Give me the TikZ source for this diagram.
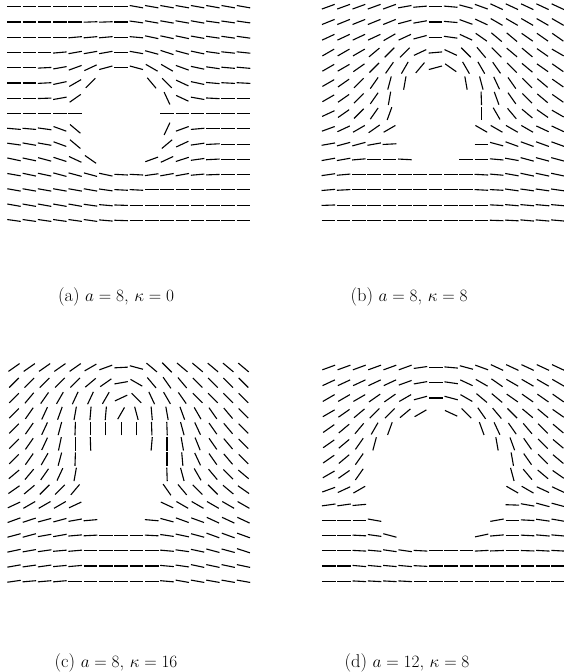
\documentclass[tikz,border=0pt]{standalone}
\tikzset{
  seg/.style={line width=1.1pt, line cap=butt, black},
  capt/.style={font=\fontsize{18.5}{22}\selectfont, inner sep=0pt, anchor=base}
}
\newcommand\fpanel[3]{%
  \foreach \r [count=\j from 0] in {#3}{%
    \foreach \a [count=\i from 0] in \r {%
      \ifnum\a=99 \else
        \draw[seg] ({#1+15.3*\i},{#2-15.27*\j}) ++(\a:-6.8) -- ++(\a:13.6);
      \fi}}}
\begin{document}
\begin{tikzpicture}[x=1pt,y=1pt]
\useasboundingbox (0,0) rectangle (563,672);
% (a)
\fpanel{14}{665.3}{
{0,0,0,0,0,0,0,0,-10,-10,-10,-10,-10,-10,-10,-10},
{0,0,0,0,0,2,2,0,-8,-10,-10,-10,-10,-8,-8,-8},
{0,0,0,0,5,5,5,0,-5,-12,-12,-12,-10,-8,-8,-8},
{0,0,0,5,10,10,10,0,-10,-15,-18,-15,-12,-8,-6,-6},
{0,0,3,10,20,25,15,0,-15,-30,-30,-20,-12,-8,-5,-5},
{0,0,3,12,30,45,99,99,99,-50,-45,-25,-12,-5,-3,-3},
{0,0,2,10,35,99,99,99,99,99,-65,-25,-10,-3,0,0},
{0,0,0,0,0,99,99,99,99,99,0,0,0,0,0,0},
{-5,-5,-8,-20,-40,99,99,99,99,99,65,20,5,0,0,0},
{-8,-10,-10,-20,-40,99,99,99,99,99,40,25,8,3,0,0},
{-12,-12,-15,-18,-25,-35,99,99,99,20,25,18,8,3,0,0},
{-10,-12,-12,-15,-15,-15,-12,-3,-3,8,10,10,5,2,0,0},
{-10,-10,-10,-10,-10,-10,-8,-3,-3,0,0,0,0,0,0,0},
{-10,-10,-10,-10,-10,-8,-5,-2,0,0,0,0,0,0,0,0},
{-8,-8,-8,-8,-8,-8,-5,-2,0,0,0,0,0,0,0,0}}
% (b)
\fpanel{328.3}{665.3}{
{20,20,20,20,20,10,5,0,-5,-15,-20,-25,-25,-25,-25,-25},
{22,22,22,22,22,15,10,0,-5,-20,-25,-30,-30,-30,-30,-30},
{25,25,25,25,30,25,15,0,-8,-25,-35,-40,-40,-35,-35,-35},
{30,30,30,40,45,45,25,5,-25,-45,-50,-45,-40,-40,-35,-30},
{30,30,35,45,55,60,50,15,-35,-60,-60,-55,-45,-40,-35,-35},
{30,35,45,55,75,80,99,99,99,-80,-75,-65,-55,-45,-40,-35},
{30,35,45,55,80,99,99,99,99,99,-88,-70,-55,-45,-40,-35},
{25,35,45,55,70,99,99,99,99,99,-90,-60,-50,-40,-35,-30},
{20,25,30,35,30,99,99,99,99,99,-30,-30,-30,-30,-25,-25},
{10,15,15,10,3,99,99,99,99,99,0,-15,-20,-20,-20,-20},
{10,10,5,0,0,-3,99,99,99,0,0,-5,-10,-15,-15,-15},
{8,5,0,0,0,0,0,0,0,0,-3,-5,-10,-12,-12,-12},
{5,3,0,0,0,0,0,0,0,0,-3,-3,-8,-8,-8,-8},
{2,0,0,0,0,0,0,0,0,0,0,-3,-5,-5,-5,-5},
{0,0,0,0,0,0,0,0,0,0,0,-2,-3,-5,-5,-5}}
% (c)
\fpanel{14}{304.5}{
{35,35,35,35,35,30,20,3,-15,-40,-45,-40,-40,-40,-40,-40},
{45,45,45,45,45,40,35,10,-30,-50,-55,-50,-45,-45,-45,-45},
{45,50,55,60,65,65,60,25,-45,-65,-60,-55,-45,-45,-45,-45},
{45,55,65,70,80,85,85,60,-75,-85,-80,-70,-60,-55,-50,-45},
{45,55,65,75,88,90,90,90,90,-88,-88,-75,-65,-55,-50,-45},
{45,55,65,78,90,-88,99,99,99,85,-90,-80,-68,-55,-50,-45},
{45,55,60,75,88,99,99,99,99,99,-90,-85,-65,-55,-50,-45},
{40,50,55,65,80,99,99,99,99,99,-88,-75,-60,-50,-45,-40},
{35,40,45,45,50,99,99,99,99,99,-55,-50,-45,-45,-40,-35},
{25,30,30,30,25,99,99,99,99,99,-25,-30,-30,-30,-30,-30},
{20,18,15,15,10,5,99,99,99,-5,-15,-20,-20,-25,-25,-25},
{15,15,10,10,5,3,0,0,0,-3,-8,-12,-15,-20,-20,-20},
{12,10,8,5,5,0,0,0,0,0,-5,-8,-12,-15,-15,-18},
{10,8,8,5,5,0,0,0,0,0,-5,-8,-12,-12,-12,-12},
{8,5,5,5,0,0,0,0,0,0,-5,-10,-10,-10,-10,-10}}
% (d)
\fpanel{328.7}{304.5}{
{20,20,20,20,20,20,8,0,-5,-15,-20,-25,-25,-25,-25,-25},
{25,25,25,25,25,20,10,0,-8,-25,-30,-35,-30,-30,-30,-30},
{30,30,30,35,35,30,15,0,-15,-30,-40,-40,-35,-35,-35,-35},
{30,35,40,45,45,40,30,99,-25,-45,-55,-50,-45,-40,-40,-35},
{35,40,50,60,70,99,99,99,99,99,-70,-65,-55,-50,-45,-40},
{35,40,55,75,99,99,99,99,99,99,99,-80,-70,-55,-45,-40},
{35,40,55,99,99,99,99,99,99,99,99,99,-80,-55,-45,-40},
{30,35,55,99,99,99,99,99,99,99,99,99,-75,-50,-40,-35},
{20,25,30,99,99,99,99,99,99,99,99,99,-30,-30,-25,-25},
{8,8,5,99,99,99,99,99,99,99,99,99,-2,-10,-15,-15},
{0,0,0,-10,99,99,99,99,99,99,99,10,0,-3,-8,-10},
{0,0,-3,-8,-15,99,99,99,99,99,12,5,0,-3,-5,-5},
{0,0,-3,-5,-8,-8,-3,0,0,0,3,2,0,-2,-3,-3},
{0,0,-5,-5,-5,-5,-3,0,0,0,0,0,0,0,0,0},
{0,0,-3,-3,-3,-3,0,0,0,0,0,0,0,0,0,0}}
% captions
\node[capt] (capa) at (116,370.3) {(a) $a=8$, $\kappa=0$};
\node[capt] (capb) at (409,370.3) {(b) $a=8$, $\kappa=8$};
\node[capt] (capc) at (116,5) {(c) $a=8$, $\kappa=16$};
\node[capt] (capd) at (407,5) {(d) $a=12$, $\kappa=8$};
\end{tikzpicture}
\end{document}
